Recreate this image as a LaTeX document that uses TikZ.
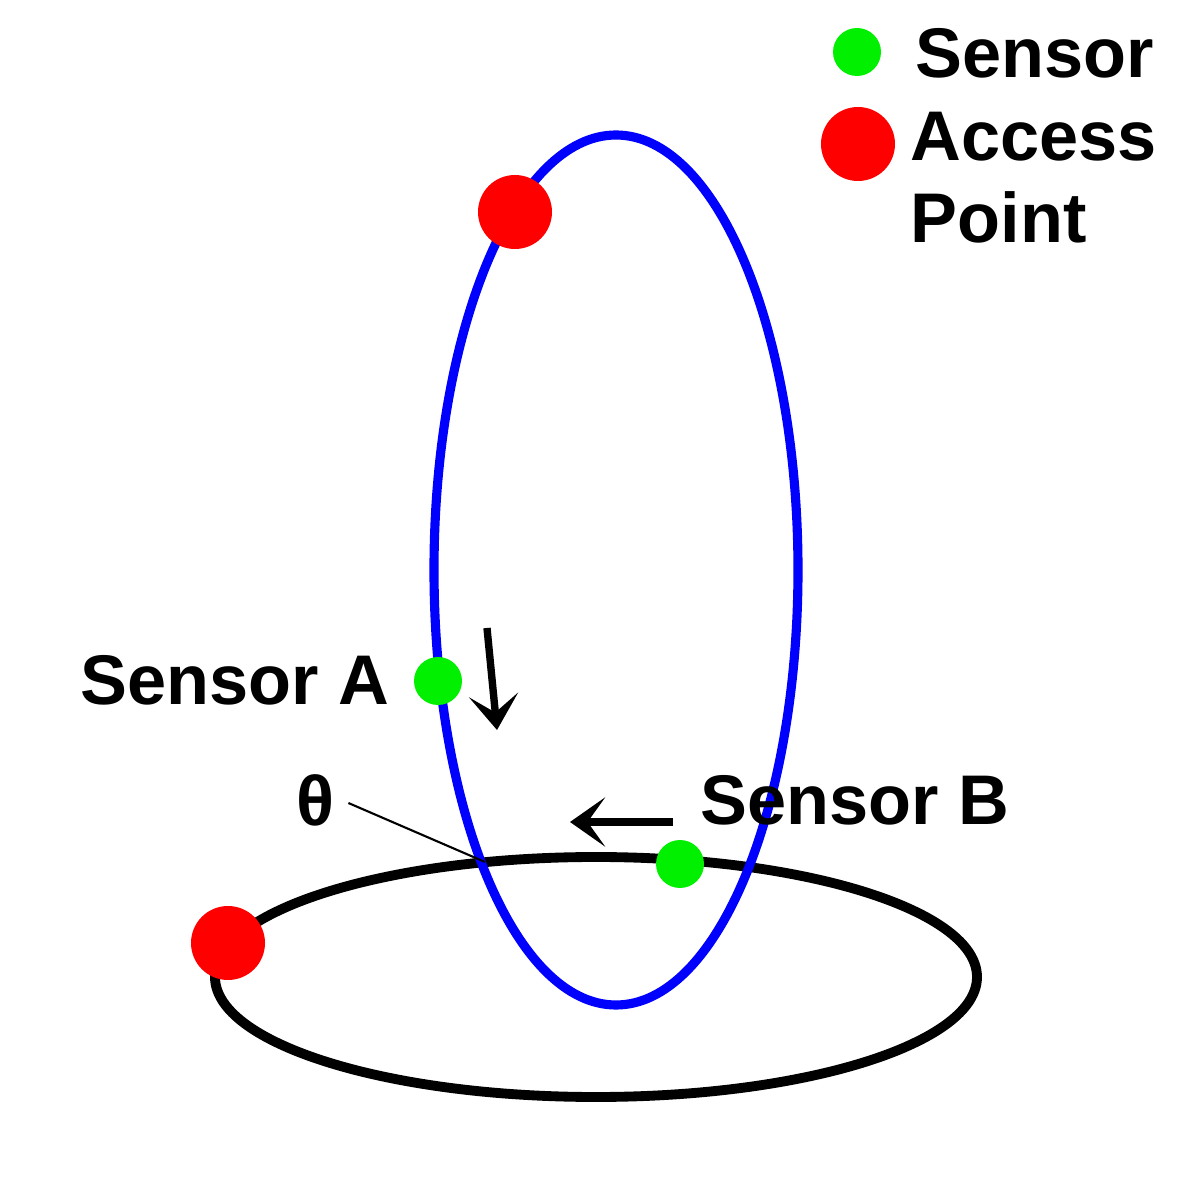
\documentclass[tikz,border=0pt]{standalone}
\usepackage{fontspec}
\setmainfont{Liberation Sans}
\usepackage{tikz}
\usetikzlibrary{arrows.meta}
\definecolor{SensorGreen}{RGB}{0,240,0}
\definecolor{APRed}{RGB}{255,0,0}
\definecolor{OrbitBlue}{RGB}{0,0,255}

\begin{document}
\begin{tikzpicture}[
  font=\fontsize{20}{23.5}\selectfont\bfseries,
  sensor/.style={circle, fill=SensorGreen, inner sep=0pt, minimum size=0.48cm},
  ap/.style={circle, fill=APRed, inner sep=0pt, minimum size=0.74cm},
  lbl/.style={anchor=base west, inner sep=0pt, align=left},
  motion/.style={line width=2.1pt, -{Stealth[length=10pt, width=14pt, inset=5pt]}},
]
\useasboundingbox (0,0) rectangle (12,12);

% Orbits
\draw[line width=2.8pt, black]      (5.96,2.23) ellipse [x radius=3.81, y radius=1.20];
\draw[line width=2.6pt, OrbitBlue]  (6.16,6.30) ellipse [x radius=1.82, y radius=4.35];

% Access points and sensors
\node[ap]     (apTop)  at (5.15,9.88){};
\node[ap]     (apLow)  at (2.28,2.57){};
\node[sensor] (sensA)  at (4.38,5.19){};
\node[sensor] (sensB)  at (6.80,3.36){};
\node[lbl]    (labA)   at (0.80,4.95){Sensor A};
\node[lbl]    (labB)   at (7.00,3.75){Sensor B};

% Angle between the orbits
\coordinate (cross) at (4.85,3.38);
\node (theta) at (3.15,4.00){θ};
\draw[line width=0.6pt] (theta.east) ++(0.02,-0.03) coordinate (thetaEnd) -- (cross);

% Direction of motion
\coordinate (aFrom) at (4.87,5.72); \coordinate (aTo) at (4.97,4.70);
\coordinate (bFrom) at (6.73,3.78); \coordinate (bTo) at (5.70,3.78);
\draw[motion] (aFrom) -- (aTo);
\draw[motion] (bFrom) -- (bTo);

% Legend
\node[sensor] (legS)  at (8.57,11.48){};
\node[ap]     (legAP) at (8.58,10.56){};
\node[lbl]    (legSText)  at (9.15,11.22){Sensor};
\node[lbl]    (legAPText) at (9.10,9.57){Access\\Point};

\end{tikzpicture}
\end{document}
